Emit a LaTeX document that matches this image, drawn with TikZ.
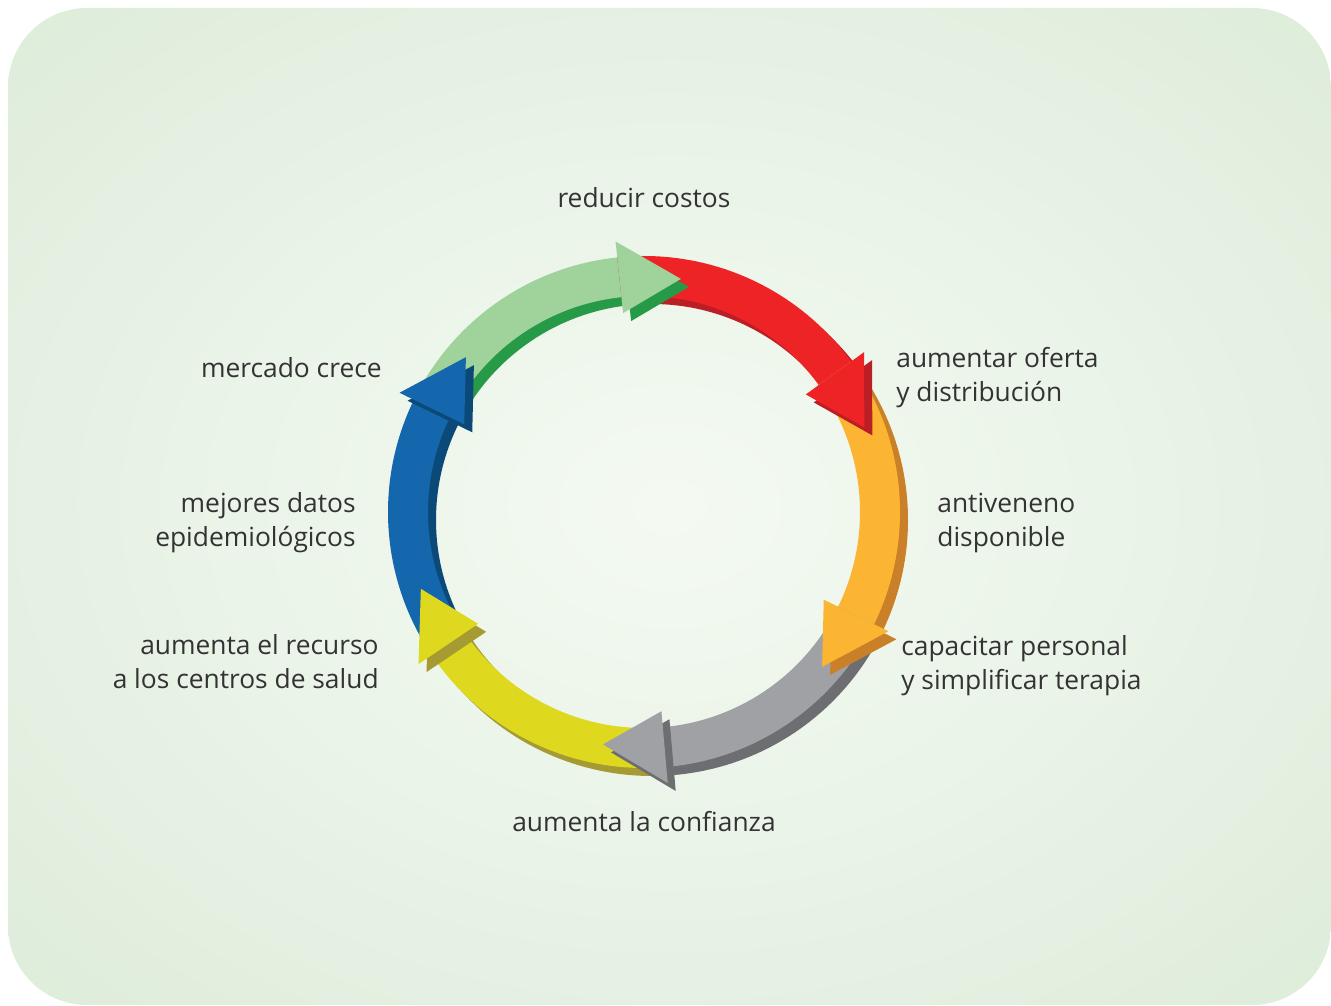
\documentclass[tikz,border=0pt]{standalone}
\usepackage{fontspec}
\setmainfont{Open Sans}
\definecolor{bgin}{HTML}{F4FAF2}
\definecolor{bgsoft}{HTML}{ECF5EA}
\definecolor{bgmid}{HTML}{DCEBD8}
\definecolor{bgout}{HTML}{D4E7D0}
\definecolor{textgrey}{HTML}{333333}
\definecolor{greenlight}{HTML}{A0D29B}
\definecolor{greendark}{HTML}{279A48}
\definecolor{redlight}{HTML}{EE2326}
\definecolor{reddark}{HTML}{BB1E24}
\definecolor{orangelight}{HTML}{FBB532}
\definecolor{orangedark}{HTML}{C98029}
\definecolor{greylight}{HTML}{A0A1A5}
\definecolor{greydark}{HTML}{6D6E72}
\definecolor{yellowlight}{HTML}{DED81F}
\definecolor{yellowdark}{HTML}{A69B33}
\definecolor{bluelight}{HTML}{1467AC}
\definecolor{bluedark}{HTML}{0B4A78}
\pgfdeclareradialshading{bgshade}{\pgfpoint{0bp}{0bp}}{color(0bp)=(bgin); color(14bp)=(bgsoft); color(38bp)=(bgmid); color(55bp)=(bgout); color(71bp)=(bgout)}
\newcommand{\arrowbody}[3]{\fill[#3] (#1:256) arc[start angle=#1, end angle={#2+14}, radius=256] -- ({#2+14}:216) arc[start angle={#2+14}, end angle=#1, radius=216] -- cycle;}
\newcommand{\arrowhead}[2]{\fill[#2] ({#1+15}:200) -- (#1:236) -- ({#1+15}:272) -- cycle;}
\tikzset{cycletext/.style={inner sep=0pt, text=textgrey, font=\fontsize{15}{19.3}\selectfont}}
\begin{document}
\begin{tikzpicture}[x=0.02cm,y=0.02cm]
\useasboundingbox (0,0) rectangle (1331,1005);
\shade[shading=bgshade, rounded corners=45] (8,0) rectangle (1331,997);
\begin{scope}[shift={(644,493)}]
\begin{scope}[shift={(8,-8)}]
\arrowbody{154}{81}{greendark}
\arrowbody{96}{21}{reddark}
\arrowbody{36}{-41}{orangedark}
\arrowbody{-26}{-100}{greydark}
\arrowbody{-85}{-161}{yellowdark}
\arrowbody{214}{139}{bluedark}
\end{scope}
\arrowbody{154}{81}{greenlight}
\arrowbody{96}{21}{redlight}
\arrowbody{36}{-41}{orangelight}
\arrowbody{-26}{-100}{greylight}
\arrowbody{-85}{-161}{yellowlight}
\arrowbody{214}{139}{bluelight}
\begin{scope}[shift={(8,-8)}]
\arrowhead{81}{greendark}
\arrowhead{21}{reddark}
\arrowhead{-41}{orangedark}
\arrowhead{-100}{greydark}
\arrowhead{-161}{yellowdark}
\arrowhead{139}{bluedark}
\end{scope}
\arrowhead{81}{greenlight}
\arrowhead{21}{redlight}
\arrowhead{-41}{orangelight}
\arrowhead{-100}{greylight}
\arrowhead{-161}{yellowlight}
\arrowhead{139}{bluelight}
\end{scope}
\node[cycletext] (costos) at (644,807) {reducir costos};
\node[cycletext, anchor=west, align=left] (oferta) at (896,627) {aumentar oferta\\y distribución};
\node[cycletext, anchor=west, align=left] (antiveneno) at (937,482) {antiveneno\\disponible};
\node[cycletext, anchor=west, align=left] (personal) at (901,339) {capacitar personal\\y simplificar terapia};
\node[cycletext] (confianza) at (644,183) {aumenta la confianza};
\node[cycletext, anchor=east, align=right] (recurso) at (379,343) {aumenta el recurso\\a los centros de salud};
\node[cycletext, anchor=east, align=right] (datos) at (356,482) {mejores datos\\epidemiológicos};
\node[cycletext, anchor=east] (mercado) at (382,637) {mercado crece};
\end{tikzpicture}
\end{document}
